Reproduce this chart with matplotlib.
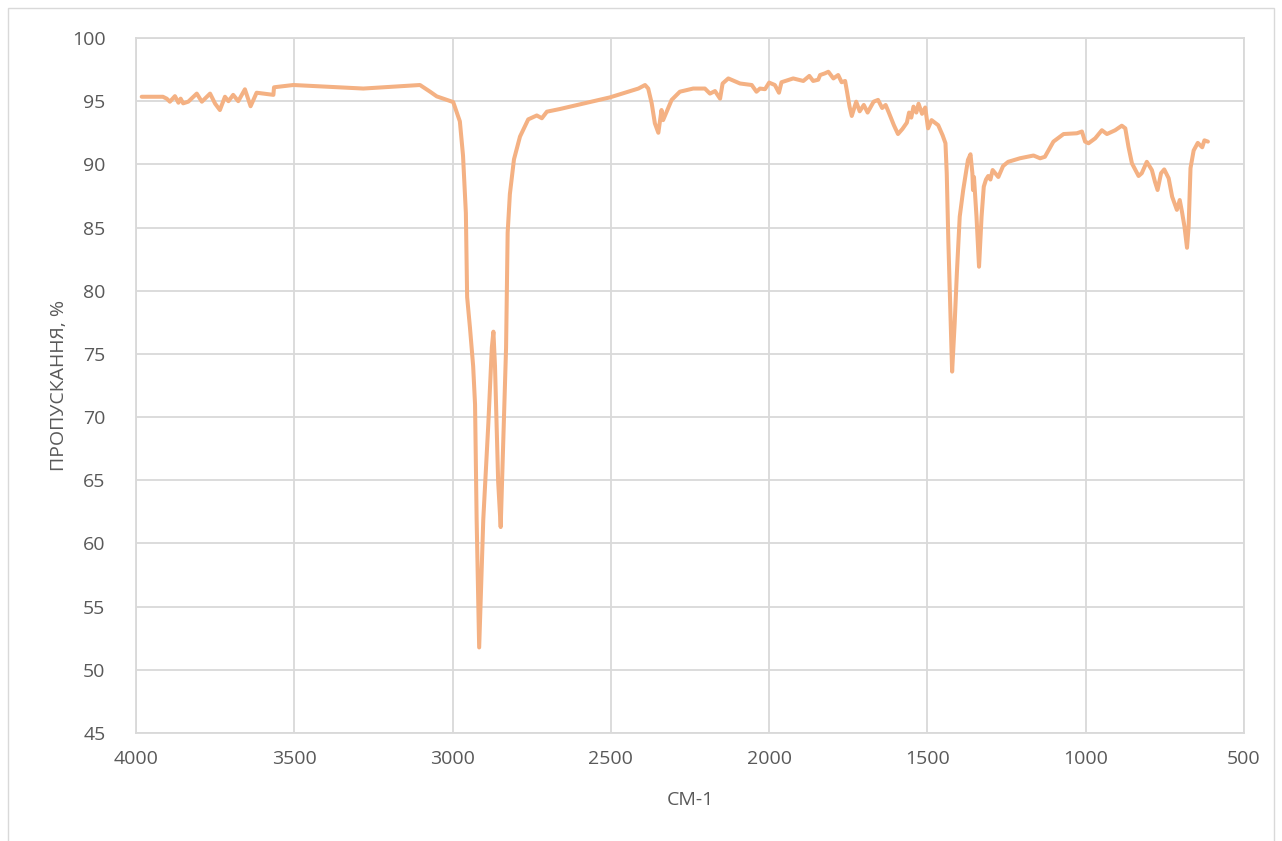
import matplotlib
matplotlib.use("Agg")
import matplotlib.pyplot as plt
from matplotlib.patches import Rectangle

wavenumber = [
    3982, 3915, 3903, 3893, 3877, 3866, 3859, 3851, 3835, 3808, 3792, 3766, 3750, 3735,
    3719, 3708, 3693, 3677, 3656, 3638, 3619, 3566, 3564, 3503, 3282, 3103, 3071, 3050,
    2998, 2977, 2967, 2958, 2954, 2945, 2935, 2929, 2924, 2916, 2903, 2887, 2876, 2871,
    2866, 2856, 2848, 2840, 2831, 2826, 2819, 2806, 2787, 2761, 2734, 2718, 2702, 2661,
    2597, 2503, 2413, 2392, 2382, 2371, 2361, 2350, 2340, 2335, 2308, 2282, 2240, 2203,
    2187, 2171, 2155, 2147, 2129, 2092, 2055, 2040, 2029, 2013, 2000, 1982, 1969, 1961,
    1924, 1892, 1873, 1861, 1845, 1839, 1824, 1813, 1797, 1782, 1771, 1760, 1755, 1746,
    1739, 1725, 1714, 1701, 1689, 1670, 1656, 1643, 1632, 1622, 1606, 1593, 1579, 1565,
    1558, 1551, 1544, 1535, 1528, 1517, 1507, 1498, 1487, 1466, 1452, 1443, 1439, 1434,
    1428, 1422, 1414, 1407, 1398, 1387, 1372, 1364, 1358, 1356, 1353, 1345, 1337, 1329,
    1322, 1315, 1308, 1301, 1294, 1276, 1261, 1245, 1208, 1165, 1144, 1129, 1102, 1070,
    1028, 1012, 1002, 991, 970, 949, 933, 907, 886, 875, 865, 854, 833, 823, 807, 791,
    781, 773, 762, 752, 738, 727, 712, 703, 696, 688, 680, 675, 669, 659, 646, 632, 625, 614,
]
transmittance = [
    95.35, 95.35, 95.2, 94.96, 95.4, 94.88, 95.2, 94.83, 94.96, 95.6, 94.96, 95.6, 94.8, 94.3,
    95.35, 95.0, 95.5, 95.0, 95.94, 94.6, 95.67, 95.5, 96.1, 96.28, 96.0, 96.28, 95.75, 95.38,
    94.93, 93.4, 90.7, 86.15, 79.5, 77.06, 74.04, 71.0, 61.9, 51.77, 61.9, 69.5, 75.5, 76.76,
    74.04, 64.9, 61.3, 67.97, 75.5, 84.6, 87.65, 90.4, 92.2, 93.56, 93.87, 93.65, 94.17, 94.38,
    94.75, 95.3, 96.0, 96.28, 96.0, 94.83, 93.25, 92.5, 94.3, 93.5, 95.1, 95.75, 96.0, 96.0,
    95.6, 95.8, 95.2, 96.4, 96.8, 96.4, 96.28, 95.75, 96.0, 95.95, 96.47, 96.28, 95.67, 96.5,
    96.8, 96.6, 97.0, 96.6, 96.7, 97.07, 97.2, 97.33, 96.8, 97.07, 96.5, 96.6, 95.9, 94.57,
    93.83, 94.96, 94.2, 94.7, 94.1, 94.96, 95.1, 94.46, 94.7, 94.1, 93.1, 92.4, 92.8, 93.3,
    94.1, 93.7, 94.57, 94.1, 94.8, 94.0, 94.5, 92.85, 93.5, 93.1, 92.3, 91.67, 89.3, 84.0,
    78.7, 73.6, 77.4, 81.4, 85.86, 87.97, 90.35, 90.8, 89.3, 87.97, 89.0, 85.86, 81.9, 85.86,
    88.24, 88.8, 89.08, 88.8, 89.55, 89.0, 89.87, 90.2, 90.48, 90.7, 90.48, 90.6, 91.8, 92.4,
    92.46, 92.6, 91.8, 91.67, 92.06, 92.7, 92.4, 92.7, 93.06, 92.85, 91.4, 90.08, 89.08, 89.3, 90.2, 89.55,
    88.6, 87.97, 89.3, 89.6, 88.9, 87.44, 86.4, 87.18, 86.26, 85.07, 83.4, 85.07, 89.7, 91.1, 91.7, 91.35, 91.9, 91.8,
]

x_ticks = [4000, 3500, 3000, 2500, 2000, 1500, 1000, 500]
y_ticks = [45, 50, 55, 60, 65, 70, 75, 80, 85, 90, 95, 100]
x_label = "СМ-1"
y_label = "ПРОПУСКАННЯ, %"

plt.rcParams['font.family'] = ['Open Sans', 'DejaVu Sans']
text_color = '#595959'
grid_color = '#d9d9d9'

fig = plt.figure(figsize=(12.82, 8.41), dpi=100)
fig.patches.append(Rectangle((0.006, -0.01), 0.988, 1.0, transform=fig.transFigure,
                             fill=False, edgecolor=grid_color, linewidth=1.0))
ax = fig.add_axes([136/1282, 1 - 733/841, (1244-136)/1282, (733-38)/841])

ax.plot(wavenumber, transmittance, color='#F4B183', linewidth=2.9,
        solid_joinstyle='round', solid_capstyle='round', zorder=3)

ax.set_xlim(4000, 500)
ax.set_ylim(45, 100)
ax.set_xticks(x_ticks)
ax.set_yticks(y_ticks)
ax.set_xticklabels([str(t) for t in x_ticks])
ax.set_yticklabels([str(t) for t in y_ticks])
ax.grid(True, color=grid_color, linewidth=1.3, zorder=0)
for s in ax.spines.values():
    s.set_color(grid_color)
    s.set_linewidth(1.3)
ax.tick_params(length=0, labelsize=14, colors=text_color)
ax.tick_params(axis='y', pad=22)
ax.tick_params(axis='x', pad=12)
ax.set_xlabel(x_label, fontsize=14, color=text_color, labelpad=17)
ax.set_ylabel(y_label, fontsize=14, color=text_color, labelpad=3)

fig.savefig("out.png", dpi=100)
